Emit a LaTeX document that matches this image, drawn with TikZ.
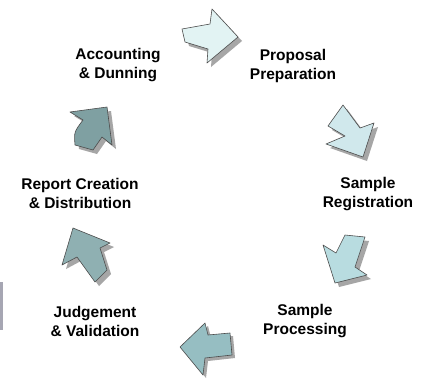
\documentclass[tikz,border=0pt]{standalone}
\usepackage{fontspec}
\setmainfont{Liberation Sans}
\begin{document}
\begin{tikzpicture}[x=1pt,y=-1pt,
  lbl/.style={font=\bfseries\fontsize{15.5}{19}\selectfont,align=center,inner sep=0pt},
  arr/.style={draw=black!70,line width=0.6pt,line join=round},
  shd/.style={fill=black!35,draw=none}]
\useasboundingbox (0,0) rectangle (426,378);
\fill[white] (0,0) rectangle (426,378);
% left edge artifact
\fill[blue!15!black!35] (0,282) rectangle (2.5,330);
% arrow 1 (top)
\def\aone{(182,29) -- (210,24) -- (212,9) -- (238,37) -- (207,63) -- (208,49) -- (185,42) -- cycle}
\fill[shd,shift={(4,4)}] \aone;
\draw[arr,fill={rgb,255:red,226;green,243;blue,243}] \aone;
% arrow 2
\def\atwo{(343,105) -- (360,128) -- (374,123) -- (363,157) -- (326,144) -- (345,136) -- (328,126) -- cycle}
\fill[shd,shift={(4,4)}] \atwo;
\draw[arr,fill={rgb,255:red,208;green,232;blue,236}] \atwo;
% arrow 3
\def\athree{(345,235) -- (365,237) -- (355,267) -- (367,275) -- (335,283) -- (323,245) -- (336,253) -- cycle}
\fill[shd,shift={(4,4)}] \athree;
\draw[arr,fill={rgb,255:red,184;green,220;blue,224}] \athree;
% arrow 4 (bottom)
\def\afour{(205,323) -- (208,335) -- (230,333) -- (232,355) -- (205,358) -- (203,375) -- (180,347) -- cycle}
\fill[shd,shift={(3,3)}] \afour;
\draw[arr,fill={rgb,255:red,150;green,190;blue,194}] \afour;
% arrow 5
\def\afive{(73,228) -- (110,243) -- (100,248) -- (107,270) -- (95,282) -- (77,257) -- (62,265) -- cycle}
\fill[shd,shift={(4,4)}] \afive;
\draw[arr,fill={rgb,255:red,143;green,176;blue,178}] \afive;
% arrow 6
\def\asix{(107,107) -- (112,145) -- (102,137) -- (93,150) -- (75,145) .. controls (74,132) .. (83,120) -- (70,112) -- cycle}
\fill[shd,shift={(4,4)}] \asix;
\draw[arr,fill={rgb,255:red,127;green,160;blue,162}] \asix;
% labels
\node[lbl] (acc) at (118,65) {Accounting\\\& Dunning};
\node[lbl] (prop) at (293,66) {Proposal\\Preparation};
\node[lbl] (reg) at (368,194) {Sample\\Registration};
\node[lbl] (proc) at (305,321) {Sample\\Processing};
\node[lbl] (judg) at (95,321) {Judgement\\\& Validation};
\node[lbl] (rep) at (80,193) {Report Creation\\\& Distribution};
\end{tikzpicture}
\end{document}
